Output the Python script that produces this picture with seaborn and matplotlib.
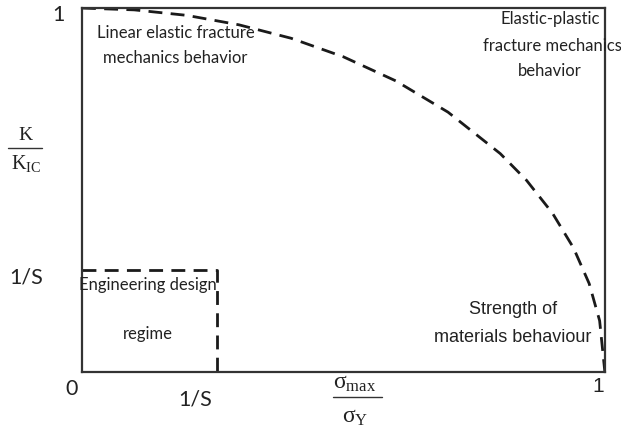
import matplotlib
matplotlib.use("Agg")
import matplotlib.pyplot as plt
import seaborn as sns
import pandas as pd

# ---- data ----
curve_x = [0.0, 0.1, 0.2, 0.3, 0.4, 0.5, 0.6, 0.7, 0.8, 0.85, 0.9, 0.94, 0.97, 0.99, 1.0]
curve_y = [1.0, 0.995, 0.98, 0.954, 0.917, 0.866, 0.8, 0.714, 0.6, 0.527, 0.436, 0.341, 0.243, 0.141, 0.0]
design_x = 0.258   # 1/S on the x axis
design_y = 0.28    # 1/S on the y axis
design_box_x = [0.0, design_x, design_x]
design_box_y = [design_y, design_y, 0.0]

sns.set_theme(style="white")
plt.rcParams['font.family'] = ['Lato', 'DejaVu Sans']

fig = plt.figure(figsize=(6.21, 4.31), dpi=100)
ax = fig.add_axes([0.132, 0.1346, 0.842, 0.8444])

curve = pd.DataFrame({"x": curve_x, "y": curve_y})
box = pd.DataFrame({"x": design_box_x, "y": design_box_y})
sns.lineplot(data=curve, x="x", y="y", sort=False, estimator=None, ax=ax,
             color="#1a1a1a", linewidth=2.0, linestyle=(0, (5, 3)))
sns.lineplot(data=box, x="x", y="y", sort=False, estimator=None, ax=ax,
             color="#1a1a1a", linewidth=2.0, linestyle=(0, (5, 3)))

ax.set_xlim(0, 1)
ax.set_ylim(0, 1)
ax.set_xticks([])
ax.set_yticks([])
ax.set_xlabel("")
ax.set_ylabel("")
for s in ax.spines.values():
    s.set_visible(True)
    s.set_color("#333333")
    s.set_linewidth(1.6)

# helper: place text by pixel coordinates (from top-left)
W, H = 621, 431
def ptext(x, y, s, size=10.5, family=None, **kw):
    fam = family if family is not None else ['Lato', 'DejaVu Sans']
    fig.text(x / W, 1 - y / H, s, fontsize=size, family=fam,
             ha=kw.pop('ha', 'center'), va=kw.pop('va', 'center'), color="#222222", **kw)

# tick-like labels
ptext(58, 15, "1", size=15.5)
ptext(72, 389, "0", size=15.5)
ptext(195, 400, "1/S", size=15.5)
ptext(26, 278, "1/S", size=15.5)
ptext(598, 387, "1", size=15, family=['Liberation Sans'])

# axis labels as fractions (serif)
serif = ['Liberation Serif', 'DejaVu Serif']
ptext(355, 384, r"$\mathregular{\sigma_{max}}$", size=17, family=serif)
fig.add_artist(plt.Line2D([333 / W, 382 / W], [1 - 398 / H, 1 - 398 / H], color="#333333", linewidth=1.0))
ptext(355, 418, r"$\mathregular{\sigma_{Y}}$", size=17, family=serif)

ptext(25, 136, "K", size=14, family=serif)
fig.add_artist(plt.Line2D([8 / W, 42 / W], [1 - 149 / H, 1 - 149 / H], color="#333333", linewidth=1.0))
ptext(26, 163, r"$\mathregular{K_{IC}}$", size=14.5, family=serif)

# region annotations
ptext(176, 33, "Linear elastic fracture", size=12)
ptext(175, 58, "mechanics behavior", size=12)
ptext(550, 19, "Elastic-plastic", size=12)
ptext(552, 46, "fracture mechanics", size=12)
ptext(550, 71, "behavior", size=12)
ptext(148, 285, "Engineering design", size=12)
ptext(148, 334, "regime", size=12)
ptext(513, 310, "Strength of", size=13, family=['Liberation Sans'])
ptext(513, 337, "materials behaviour", size=13, family=['Liberation Sans'])

fig.savefig("out.png", dpi=100, facecolor="white")
